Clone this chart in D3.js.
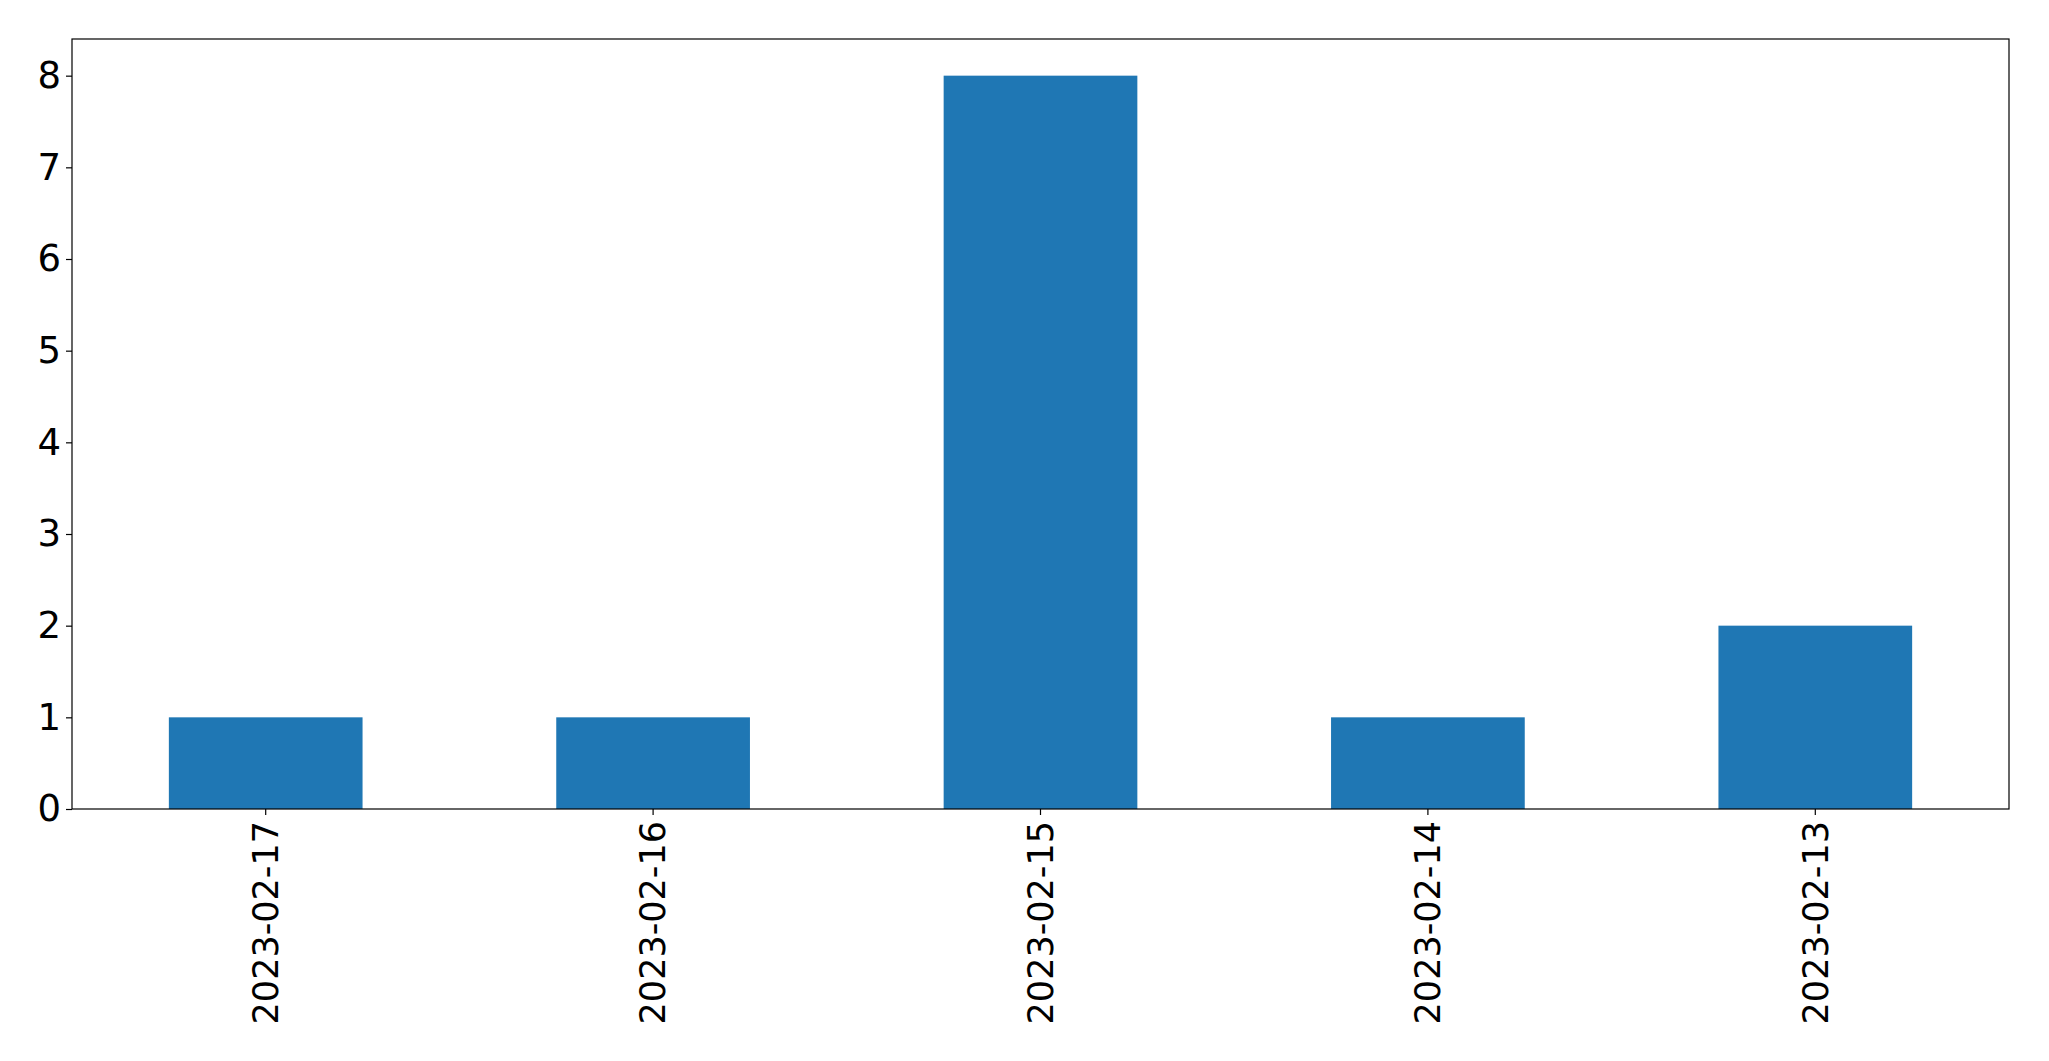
<!DOCTYPE html>
<html><head><meta charset="utf-8">
<script src="https://cdn.jsdelivr.net/npm/d3@7"></script>
<style>body{margin:0;background:#fff}svg{display:block}</style>
</head><body>
<script>
const categories = ["2023-02-17","2023-02-16","2023-02-15","2023-02-14","2023-02-13"];
const values = [1,1,8,1,2];
const yTicks = [0,1,2,3,4,5,6,7,8];

const W = 2049, H = 1061;
const m = {left:72, right:W-2009, top:39, bottom:H-809};
const svg = d3.select("body").append("svg").attr("width",W).attr("height",H);
const x = d3.scaleBand().domain(categories).range([m.left, W-m.right]).paddingInner(0.5).paddingOuter(0.25);
const y = d3.scaleLinear().domain([0,8.4]).range([H-m.bottom, m.top]);

svg.append("g").selectAll("rect").data(values).join("rect")
  .attr("x",(d,i)=>x(categories[i])).attr("width",x.bandwidth())
  .attr("y",d=>y(d)).attr("height",d=>y(0)-y(d)).attr("fill","#1f77b4");

const font = "DejaVu Sans";
const ya = svg.append("g").attr("transform",`translate(${m.left},0)`)
  .call(d3.axisLeft(y).tickValues(yTicks).tickSize(6).tickPadding(5).tickFormat(d3.format("d")));
ya.select(".domain").remove();
ya.selectAll("text").attr("font-family",font).attr("font-size",37).attr("fill","#000");
ya.selectAll("line").attr("stroke","#000").attr("stroke-width",1.2);

const xa = svg.append("g").attr("transform",`translate(0,${H-m.bottom})`)
  .call(d3.axisBottom(x).tickSize(6).tickPadding(0));
xa.select(".domain").remove();
xa.selectAll("line").attr("stroke","#000").attr("stroke-width",1.2);
xa.selectAll("text").attr("font-family",font).attr("font-size",35).attr("fill","#000")
  .attr("text-anchor","end").attr("transform","translate(0,12) rotate(-90)")
  .attr("x",0).attr("y",0).attr("dy","0.35em");

svg.append("rect").attr("x",m.left).attr("y",m.top)
  .attr("width",W-m.right-m.left).attr("height",H-m.bottom-m.top)
  .attr("fill","none").attr("stroke","#000").attr("stroke-width",1.2);
</script>
</body></html>
